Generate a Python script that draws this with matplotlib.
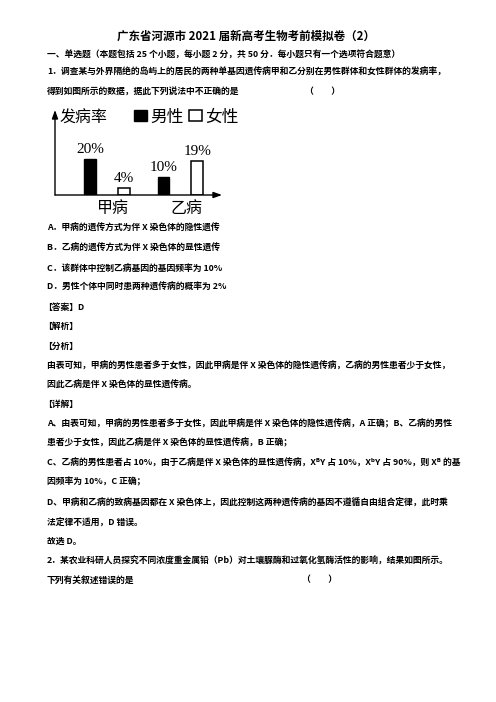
import matplotlib
matplotlib.use("Agg")
import matplotlib.pyplot as plt

plt.rcParams['font.family'] = ['Noto Sans CJK SC', 'DejaVu Sans']

# ---- chart data ----
diseases = ["甲病", "乙病"]
male_rate = [20, 10]
female_rate = [4, 19]
series_names = ["男性", "女性"]
y_label = "发病率"

W, H = 496, 702
fig = plt.figure(figsize=(W / 100, H / 100), dpi=100)
fig.patch.set_facecolor("white")

def T(x, y, s, size=6.35, weight="bold", ha="left", **kw):
    fig.text(x / W, 1 - y / H, s, fontsize=size, fontweight=weight,
             ha=ha, va="center", **kw)

# ---- page text ----
T(246, 36, "广东省河源市 2021 届新高考生物考前模拟卷（2）", size=8.3, ha="center")
T(47, 55, "一、单选题（本题包括 25 个小题，每小题 2 分，共 50 分．每小题只有一个选项符合题意）")
T(47, 72, "1．调查某与外界隔绝的岛屿上的居民的两种单基因遗传病甲和乙分别在男性群体和女性群体的发病率，")
T(47, 92, "得到如图所示的数据，据此下列说法中不正确的是")
T(305, 92, "（　　）")

lines = [
    (228, "A．甲病的遗传方式为伴 X 染色体的隐性遗传"),
    (248, "B．乙病的遗传方式为伴 X 染色体的显性遗传"),
    (268, "C．该群体中控制乙病基因的基因频率为 10%"),
    (287, "D．男性个体中同时患两种遗传病的概率为 2%"),
    (307, "【答案】D"),
    (326, "【解析】"),
    (346, "【分析】"),
    (366, "由表可知，甲病的男性患者多于女性，因此甲病是伴 X 染色体的隐性遗传病，乙病的男性患者少于女性，"),
    (385, "因此乙病是伴 X 染色体的显性遗传病。"),
    (404, "【详解】"),
    (424, "A、由表可知，甲病的男性患者多于女性，因此甲病是伴 X 染色体的隐性遗传病，A 正确；B、乙病的男性"),
    (443, "患者少于女性，因此乙病是伴 X 染色体的显性遗传病，B 正确；"),
    (463, "C、乙病的男性患者占 10%，由于乙病是伴 X 染色体的显性遗传病，XᴮY 占 10%，XᵇY 占 90%，则 Xᴮ 的基"),
    (482, "因频率为 10%，C 正确；"),
    (502, "D、甲病和乙病的致病基因都在 X 染色体上，因此控制这两种遗传病的基因不遵循自由组合定律，此时乘"),
    (522, "法定律不适用，D 错误。"),
    (541, "故选 D。"),
    (561, "2．某农业科研人员探究不同浓度重金属铅（Pb）对土壤脲酶和过氧化氢酶活性的影响，结果如图所示。"),
    (580, "下列有关叙述错误的是"),
]
for y, s in lines:
    x0 = 43 if s.startswith("【") else 47
    T(x0, y, s)
T(302, 580, "（　　）")

# ---- chart ----
left_px, right_px, bottom_px, top_px = 55, 222, 195, 110
ax = fig.add_axes([left_px / W, 1 - bottom_px / H,
                   (right_px - left_px) / W, (bottom_px - top_px) / H])
ax.set_xlim(-0.707, 1.565)
ax.set_ylim(0, 47)
for s in ax.spines.values():
    s.set_visible(False)
ax.set_xticks([])
ax.set_yticks([])
ax.patch.set_alpha(0)

xs = list(range(len(diseases)))
off, bw = 0.231, 0.163
b1 = ax.bar([x - off for x in xs], male_rate, width=bw, color="black",
            edgecolor="black", linewidth=1, label=series_names[0])
b2 = ax.bar([x + off for x in xs], female_rate, width=bw, color="white",
            edgecolor="black", linewidth=1.1, label=series_names[1])
for x, v in zip(xs, male_rate):
    ax.annotate(f"{v}%", (x - off, v), xytext=(0, 2), textcoords="offset points",
                ha="center", va="bottom", fontsize=11,
                family="Liberation Serif")
for x, v in zip(xs, female_rate):
    ax.annotate(f"{v}%", (x + off, v), xytext=(0, 2), textcoords="offset points",
                ha="center", va="bottom", fontsize=11,
                family="Liberation Serif")
for x, name in zip(xs, diseases):
    ax.text(x + 0.08, -0.155, name, transform=ax.get_xaxis_transform(),
            ha="center", va="center", fontsize=11.5)

# axes arrows
ax.annotate("", xy=(0, 1.0), xytext=(0, 0), xycoords="axes fraction",
            arrowprops=dict(arrowstyle="-|>,head_length=0.5,head_width=0.18",
                            lw=1, color="black", shrinkA=0, shrinkB=0))
ax.annotate("", xy=(1.0, 0), xytext=(0, 0), xycoords="axes fraction",
            arrowprops=dict(arrowstyle="-|>,head_length=0.5,head_width=0.18",
                            lw=1, color="black", shrinkA=0, shrinkB=0))

fig.text(60 / W, 1 - 118 / H, y_label, fontsize=11.5, ha="left", va="center")
fig.legend(handles=[b1, b2], loc="center left",
           bbox_to_anchor=(134 / W, 1 - 117 / H), ncol=2, frameon=False,
           fontsize=12, handlelength=0.8, handleheight=0.65,
           handletextpad=0.15, columnspacing=0.35, borderpad=0, borderaxespad=0)

fig.savefig("out.png", dpi=100, facecolor="white")
